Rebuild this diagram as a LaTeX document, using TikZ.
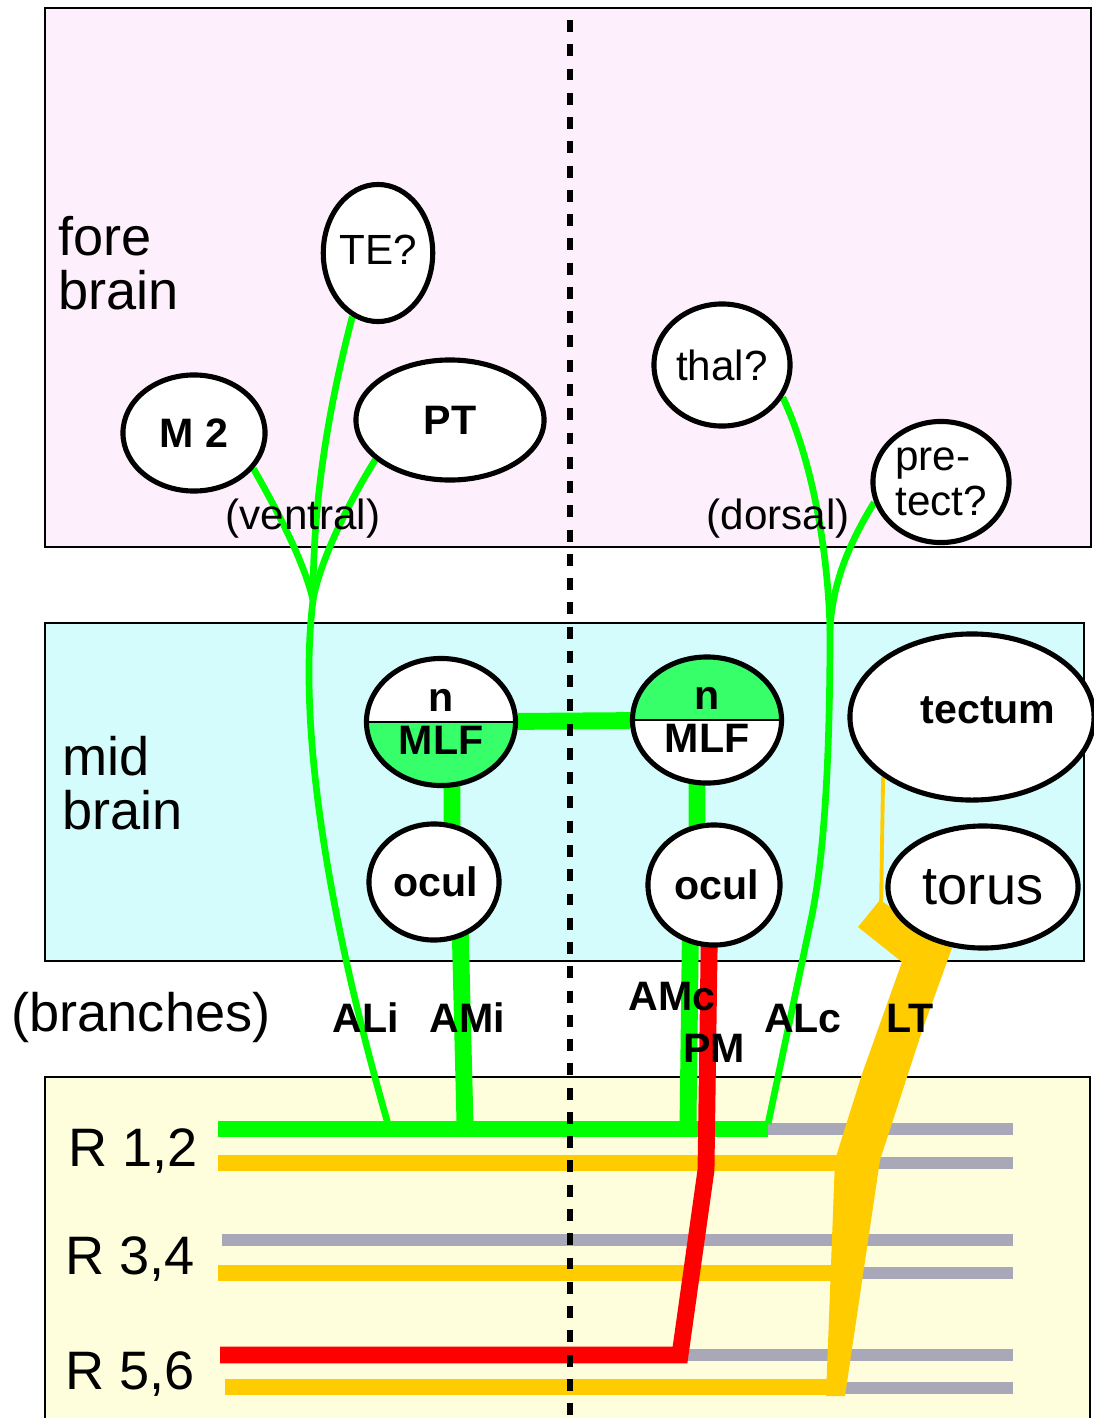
\documentclass[tikz,border=0pt]{standalone}
\usepackage{fontspec}
\setmainfont{Liberation Sans}
\usetikzlibrary{shapes.geometric, calc}

\definecolor{forebg}{HTML}{FDF0FC}
\definecolor{midbg}{HTML}{D4FCFC}
\definecolor{hindbg}{HTML}{FEFEDC}
\definecolor{tractgreen}{HTML}{00FF00}
\definecolor{nmlfgreen}{HTML}{36FF6A}
\definecolor{ltyellow}{HTML}{FFCC00}
\definecolor{rgray}{HTML}{A8A8B8}
\definecolor{pmred}{HTML}{FF0000}

\pgfdeclarelayer{boxes}
\pgfdeclarelayer{fibres}
\pgfdeclarelayer{midline}
\pgfsetlayers{boxes,fibres,main,midline}

\tikzset{
    region/.style={ellipse, draw, line width=1.45pt, fill=white, inner sep=0pt},
    brainbox/.style={draw, line width=0.6pt},
    biglabel/.style={inner sep=0pt, font=\fontsize{15.4}{15.4}\selectfont},
    smalllabel/.style={inner sep=0pt, font=\fontsize{12}{12.8}\selectfont},
    boldlabel/.style={inner sep=0pt, font=\fontsize{11.7}{12.4}\selectfont\bfseries},
    tract/.style={draw=tractgreen, line width=1.9pt},
    tractbar/.style={draw=tractgreen, line width=4.8pt},
    ltbar/.style={draw=ltyellow, line width=4.8pt},
    graybar/.style={draw=rgray, line width=3.4pt},
    pmbar/.style={draw=pmred, line width=4.8pt, line join=miter},
    lowhalf/.style={path picture={
        \fill[nmlfgreen] (path picture bounding box.west) rectangle (path picture bounding box.south east);
        \draw[line width=0.4pt] (path picture bounding box.west) -- (path picture bounding box.east);}},
    uphalf/.style={path picture={
        \fill[nmlfgreen] (path picture bounding box.west) rectangle (path picture bounding box.north east);
        \draw[line width=0.4pt] (path picture bounding box.west) -- (path picture bounding box.east);}}
}

\begin{document}
\begin{tikzpicture}[x=0.01cm, y=-0.01cm]
    \useasboundingbox (0,0) rectangle (1094,1418);

    % brain regions
    \begin{pgfonlayer}{boxes}
        \draw[brainbox, fill=forebg] (45,8) rectangle (1091,547);
        \draw[brainbox, fill=midbg] (45,623) rectangle (1084,961);
        \draw[brainbox, fill=hindbg] (45,1077) rectangle (1090,1440);
    \end{pgfonlayer}

    % fore brain
    \node[biglabel, align=left, anchor=west] (fore) at (58,263) {fore\\brain};
    \node[region, smalllabel, minimum width=1.05cm, minimum height=1.37cm] (TE) at (378,253) {\raisebox{0.6mm}{TE?}};
    \node[region, boldlabel, minimum width=1.42cm, minimum height=1.16cm] (M2) at (194,433) {M 2};
    \node[region, boldlabel, minimum width=1.88cm, minimum height=1.20cm] (PT) at (450,420) {PT};
    \node[region, smalllabel, minimum width=1.36cm, minimum height=1.22cm] (thal) at (722,365) {thal?};
    \node[region, smalllabel, align=left, minimum width=1.36cm, minimum height=1.21cm] (pre) at (941,482) {pre-\\tect?};
    \node[smalllabel] (ventral) at (303,519) {(ventral)};
    \node[smalllabel] (dorsal) at (778,519) {(dorsal)};

    % mid brain
    \node[biglabel, align=left, anchor=west] (mid) at (62,783) {mid\\brain};
    \node[region, boldlabel, lowhalf, align=center, minimum width=1.49cm, minimum height=1.27cm] (nMLFi) at (441,722) {n\\MLF};
    \node[region, boldlabel, uphalf, align=center, minimum width=1.49cm, minimum height=1.26cm] (nMLFc) at (707,720) {n\\MLF};
    \node[region, boldlabel, minimum width=1.30cm, minimum height=1.16cm] (oculL) at (434,882) {\hspace{0.4mm}ocul};
    \node[region, boldlabel, minimum width=1.32cm, minimum height=1.20cm] (oculR) at (714,885) {\hspace{0.6mm}ocul};
    \node[region, minimum width=2.44cm, minimum height=1.66cm,
          label={[boldlabel, xshift=1.6mm, yshift=0.7mm]center:tectum}] (tectum) at (972,717) {};
    \node[region, biglabel, minimum width=1.90cm, minimum height=1.22cm] (torus) at (983,887) {torus};

    % branches
    \node[biglabel] (branches) at (141,1017) {(branches)};
    \node[boldlabel, anchor=base] (ALi) at (366,1032) {ALi};
    \node[boldlabel, anchor=base] (AMi) at (467,1032) {AMi};
    \node[boldlabel, anchor=base] (AMc) at (672,1010) {AMc};
    \node[boldlabel, anchor=base] (PM) at (714,1062) {PM};
    \node[boldlabel, anchor=base] (ALc) at (803,1032) {ALc};
    \node[boldlabel, anchor=base] (LT) at (910,1032) {LT};

    % rhombomeres
    \node[biglabel, anchor=base west] (r12) at (68,1166) {R 1,2};
    \node[biglabel, anchor=base west] (r34) at (65,1274) {R 3,4};
    \node[biglabel, anchor=base west] (r56) at (65,1389) {R 5,6};

    \begin{pgfonlayer}{fibres}
        % gray rhombomere lines
        \foreach \y/\xa in {1129/768, 1163/840, 1240/222, 1273/830, 1355/685, 1388/840}
            \draw[graybar] (\xa,\y) -- (1013,\y);
        % lateral tract
        \foreach \y/\xa/\xb in {1163/218/850, 1273/218/840, 1387/225/835}
            \draw[ltbar] (\xa,\y) -- (\xb,\y);
        \fill[ltyellow] (858,927) -- (880,900) -- (952,948) -- (922,1031) -- (880,1160) -- (845,1396)
            -- (826,1396) -- (835,1160) -- (862,1074) -- (902,962) -- cycle;
        \draw[ltyellow, line width=1.1pt] (tectum.-146) -- (881,910);

        % ventral fibres
        \coordinate (vj) at (313,600);
        \coordinate (aliend) at (388,1124);
        \draw[tract] (TE.-112) .. controls (328,410) and (313,500) .. (vj);
        \draw[tract] (M2.-31) .. controls (280,515) and (305,565) .. (vj);
        \draw[tract] (PT.-152) .. controls (350,500) and (320,560) .. (vj);
        \draw[tract] (vj) .. controls (296,740) and (335,940) .. (aliend);

        % dorsal fibres
        \coordinate (dj) at (830,630);
        \coordinate (alcend) at (768,1124);
        \draw[tract] (thal.-28) .. controls (812,460) and (828,550) .. (dj);
        \draw[tract] (pre.-163) .. controls (848,545) and (832,585) .. (dj);
        \draw[tract] (dj) .. controls (830,750) and (825,850) .. (812,915) -- (alcend);

        % medial fibres
        \draw[tractbar] (nMLFi) -- (nMLFc);
        \draw[tractbar] ([xshift=1.1mm]nMLFi.center) -- ([xshift=1.8mm]oculL.center);
        \draw[tractbar] ([xshift=-1mm]nMLFc.center) -- ([xshift=-1.7mm]oculR.center);
        \draw[tractbar] ([xshift=2.5mm]oculL.center) -- (465,1124);
        \draw[tractbar] ([xshift=-2.3mm]oculR.center) -- (688,1124);
        \draw[tractbar] (218,1129) -- (768,1129);

        % PM
        \draw[pmbar] ([xshift=-0.4mm]oculR.center) -- (706,1170) -- (680,1355) -- (220,1355);
    \end{pgfonlayer}

    % midline
    \begin{pgfonlayer}{midline}
        \draw[line width=1.6pt, dash pattern=on 3.4pt off 3.5pt] (570,20) -- (570,1418);
    \end{pgfonlayer}
\end{tikzpicture}
\end{document}
